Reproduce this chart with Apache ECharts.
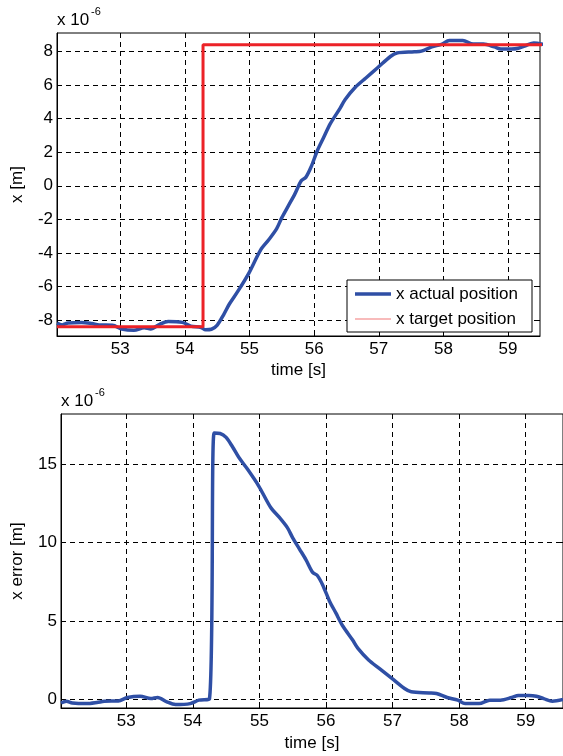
<!DOCTYPE html>
<html><head><meta charset="utf-8">
<script src="https://cdn.jsdelivr.net/npm/echarts@6/dist/echarts.min.js"></script>
<style>html,body{margin:0;padding:0;background:#fff}#c{width:563px;height:756px}</style>
</head><body><div id="c"></div>
<script>
// ---- data ----
const timeS = [52.02,52.10,52.19,52.40,52.56,52.67,52.88,53.02,53.21,53.37,53.47,53.61,53.74,53.96,54.09,54.25,
  54.32,54.41,54.50,54.60,54.69,54.82,54.99,55.17,55.30,55.42,55.50,55.60,55.70,55.80,55.87,55.95,56.05,56.15,56.25,
  56.40,56.48,56.64,56.80,56.99,57.18,57.28,57.55,57.66,57.82,57.98,58.09,58.30,58.46,58.62,58.79,58.89,59.05,59.16,
  59.27,59.40,59.56];
const xActual = [-8.18,-8.29,-8.18,-8.14,-8.21,-8.29,-8.31,-8.53,-8.61,-8.46,-8.53,-8.25,-8.08,-8.14,-8.36,-8.44,
  -8.58,-8.55,-8.30,-7.67,-7.03,-6.28,-5.20,-3.83,-3.20,-2.55,-1.90,-1.20,-0.50,0.30,0.50,1.10,2.10,2.90,3.70,
  4.61,5.14,5.88,6.42,7.06,7.70,7.91,7.98,8.02,8.27,8.44,8.66,8.66,8.44,8.44,8.27,8.14,8.14,8.19,
  8.34,8.51,8.42];
const xError = [-0.22,-0.11,-0.22,-0.26,-0.19,-0.11,-0.09,0.13,0.21,0.06,0.13,-0.15,-0.32,-0.26,-0.04,0.04,
  16.98,16.95,16.70,16.07,15.43,14.68,13.60,12.23,11.60,10.95,10.30,9.60,8.90,8.10,7.90,7.30,6.30,5.50,4.70,
  3.79,3.26,2.52,1.98,1.34,0.70,0.49,0.42,0.38,0.13,-0.04,-0.26,-0.26,-0.04,-0.04,0.13,0.26,0.26,0.21,
  0.06,-0.11,0.00];
const targetTime = [52.02, 54.28, 54.28, 59.56];
const xTarget = [-8.4, -8.4, 8.4, 8.4];
const timeTicks = [53, 54, 55, 56, 57, 58, 59];
const posTicks = [-8, -6, -4, -2, 0, 2, 4, 6, 8];
const errTicks = [0, 5, 10, 15];

// ---- chart ----
const FONT = '"Liberation Sans", Arial, Helvetica, sans-serif';
const FS = 17;
const BLUE = '#2F4FA5';
const RED = '#EC2227';
const pair = (xs, ys) => xs.map((x, i) => [x, ys[i]]);

function xAx(grid, min, max, pos, main, name, gap) {
  return {
    type: 'value', gridIndex: grid, position: pos, min: min, max: max,
    name: main ? name : '', nameLocation: 'middle', nameGap: gap,
    nameTextStyle: { fontFamily: FONT, fontSize: FS, color: '#000' },
    axisLine: { show: main, onZero: false, lineStyle: { color: '#000', width: 1 } },
    axisTick: { show: true, inside: true, length: 5, customValues: timeTicks, lineStyle: { color: '#000' } },
    axisLabel: { show: main, customValues: timeTicks, margin: 5, fontFamily: FONT, fontSize: FS, color: '#000' },
    splitLine: { show: main, lineStyle: { color: '#000', width: 1, type: [5, 4] } }
  };
}
function yAx(grid, min, max, pos, main, ticks, name, gap) {
  return {
    type: 'value', gridIndex: grid, position: pos, min: min, max: max,
    name: main ? name : '', nameLocation: 'middle', nameGap: gap, nameRotate: 90,
    nameTextStyle: { fontFamily: FONT, fontSize: FS, color: '#000' },
    axisLine: { show: main, onZero: false, lineStyle: { color: '#000', width: 1 } },
    axisTick: { show: true, inside: true, length: 5, customValues: ticks, lineStyle: { color: '#000' } },
    axisLabel: { show: main, customValues: ticks, margin: 4, fontFamily: FONT, fontSize: FS, color: '#000' },
    splitLine: { show: main, lineStyle: { color: '#000', width: 1, type: [5, 4] } }
  };
}

const chart = echarts.init(document.getElementById('c'), null, { renderer: 'canvas' });
chart.setOption({
  animation: false,
  backgroundColor: '#fff',
  grid: [
    { left: 57, top: 33, width: 483, height: 303, show: true, borderColor: '#000', borderWidth: 1, backgroundColor: 'transparent', containLabel: false },
    { left: 61, top: 414, width: 504, height: 294, show: true, borderColor: '#000', borderWidth: 1, backgroundColor: 'transparent', containLabel: false }
  ],
  xAxis: [
    xAx(0, 52.02, 59.495, 'bottom', true, 'time [s]', 26),
    xAx(0, 52.02, 59.495, 'top', false, '', 0),
    xAx(1, 52.02, 59.56, 'bottom', true, 'time [s]', 27),
    xAx(1, 52.02, 59.56, 'top', false, '', 0)
  ],
  yAxis: [
    yAx(0, -8.95, 9.1, 'left', true, posTicks, 'x [m]', 31),
    yAx(0, -8.95, 9.1, 'right', false, posTicks, '', 0),
    yAx(1, -0.54, 18.19, 'left', true, errTicks, 'x error [m]', 35),
    yAx(1, -0.54, 18.19, 'right', false, errTicks, '', 0)
  ],
  legend: {
    left: 347, top: 280, orient: 'vertical', selectedMode: false,
    padding: [4.5, 4, 3.5, 8], itemGap: 6, itemWidth: 36, itemHeight: 14,
    backgroundColor: '#fff', borderColor: '#000', borderWidth: 1, borderRadius: 0,
    textStyle: { fontFamily: FONT, fontSize: FS, color: '#000', lineHeight: 19, width: 132 },
    data: [
      { name: 'x actual position', icon: 'path://M0,0L0.01,0M0,5.2L36,5.2L36,8.8L0,8.8ZM36,14L35.99,14',
        itemStyle: { color: BLUE, borderWidth: 0 } },
      { name: 'x target position', icon: 'path://M0,0L0.01,0M0,6.4L36,6.4L36,7.6L0,7.6ZM36,14L35.99,14',
        itemStyle: { color: '#F27878', borderWidth: 0 } }
    ]
  },
  graphic: [
    { type: 'text', left: 57, top: 12, style: { text: 'x 10', fontFamily: FONT, fontSize: FS, fill: '#000' } },
    { type: 'text', left: 91, top: 6, style: { text: '-6', fontFamily: FONT, fontSize: 11, fill: '#000' } },
    { type: 'text', left: 61, top: 393, style: { text: 'x 10', fontFamily: FONT, fontSize: FS, fill: '#000' } },
    { type: 'text', left: 95, top: 387, style: { text: '-6', fontFamily: FONT, fontSize: 11, fill: '#000' } }
  ],
  series: [
    { name: 'x actual position', type: 'line', xAxisIndex: 0, yAxisIndex: 0, data: pair(timeS, xActual),
      symbol: 'none', smooth: 0.3, lineStyle: { color: BLUE, width: 3.5 }, itemStyle: { color: BLUE }, z: 2 },
    { name: 'x target position', type: 'line', xAxisIndex: 0, yAxisIndex: 0, data: pair(targetTime, xTarget),
      symbol: 'none', lineStyle: { color: RED, width: 3 }, itemStyle: { color: RED }, z: 3 },
    { name: 'x error', type: 'line', xAxisIndex: 2, yAxisIndex: 2, data: pair(timeS, xError),
      symbol: 'none', smooth: 0.3, lineStyle: { color: BLUE, width: 3.5 }, itemStyle: { color: BLUE }, z: 2 }
  ]
});
</script></body></html>
